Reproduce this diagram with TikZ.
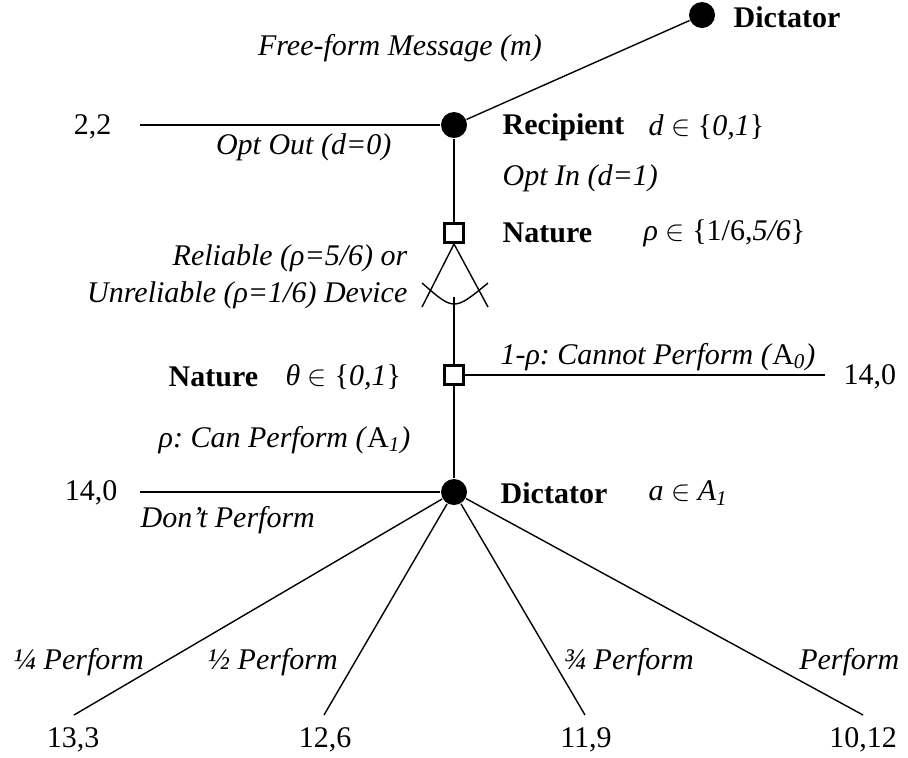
\documentclass[tikz,border=0pt]{standalone}
\usepackage{fontspec}
\setmainfont{Liberation Serif}
\usetikzlibrary{positioning}
\frenchspacing

\begin{document}
\begin{tikzpicture}[x=0.5pt, y=-0.5pt, line width=0.7pt,
    every node/.style={font=\fontsize{15}{18.5}\selectfont, inner sep=0pt},
    decision/.style={circle, fill, minimum size=13pt},
    chance/.style={draw, rectangle, line width=1.5pt, minimum size=9.5pt},
    player/.style={font=\fontsize{15}{18.5}\selectfont\bfseries, anchor=west},
    act/.style={font=\fontsize{15}{18.5}\selectfont\itshape}]
    \useasboundingbox (0,0) rectangle (908,757);

    % nodes of the tree
    \node[decision] (dtop) at (702,15) {};
    \node[decision] (rec) at (454,125) {};
    \node[chance] (nat1) at (454,233) {};
    \node[chance] (nat2) at (454,375) {};
    \node[decision] (dict) at (454,492) {};

    % end points
    \coordinate (optout) at (140,125);
    \coordinate (fanl) at (422,307);
    \coordinate (fanr) at (488,307);
    \coordinate (arcl) at (422,283);
    \coordinate (arcr) at (488,283);
    \coordinate (fanmid) at (454,297);
    \coordinate (cannot) at (825,375);
    \coordinate (dont) at (140,492);
    \coordinate (q1) at (74,715);
    \coordinate (q2) at (324,715);
    \coordinate (q3) at (585,715);
    \coordinate (q4) at (863,715);

    % branches
    \draw (dtop) -- (rec);
    \draw (rec) -- (optout);
    \draw (rec) -- (nat1);
    \draw (nat1.south) -- (fanl);
    \draw (nat1.south) -- (fanr);
    \draw (arcl) .. controls (454,311) .. (arcr);
    \draw (fanmid) -- (nat2);
    \draw (nat2) -- (cannot);
    \draw (nat2) -- (dict);
    \draw (dict) -- (dont);
    \foreach \q in {q1,q2,q3,q4}
        \draw (dict) -- (\q);

    % players
    \node[player] (dtoplbl) at (733,17) {Dictator};
    \node[player] (reclbl) at (502,127) {Recipient};
    \node[anchor=west] (recset) at (648,127) {\textit{d} $\in$ \{\textit{0,1}\}};
    \node[player] (nat1lbl) at (502,233) {Nature};
    \node[anchor=west] (nat1set) at (643,233) {\textit{ρ} $\in$ \{1/6,\textit{5/6}\}};
    \node[player] (nat2lbl) at (168,377) {Nature};
    \node[anchor=west] (nat2set) at (285,377) {\textit{θ} $\in$ \{\textit{0,1}\}};
    \node[player] (dictlbl) at (500,493) {Dictator};
    \node[anchor=west] (dictset) at (648,493) {\textit{a} $\in$ \textit{A\textsubscript{1}}};

    % actions
    \node[act] (msg) at (400,48) {Free-form Message (m)};
    \node[act, anchor=east] (outlbl) at (392,147) {Opt Out (d=0)};
    \node[act, anchor=west] (inlbl) at (502,178) {Opt In (d=1)};
    \node[act, anchor=east, align=right] (devlbl) at (408,277)
        {Reliable (ρ=5/6) or\\Unreliable (ρ=1/6) Device};
    \node[act] (cannotlbl) at (658,357) {1-ρ: Cannot Perform (\textup{A}\textsubscript{0})};
    \node[act, anchor=west] (canlbl) at (158,440) {ρ: Can Perform (\textup{A}\textsubscript{1})};
    \node[act, anchor=west] (dontlbl) at (140,520) {Don’t Perform};
    \node[act, anchor=west] (q1lbl) at (13,662) {¼ Perform};
    \node[act, anchor=west] (q2lbl) at (207,662) {½ Perform};
    \node[act, anchor=west] (q3lbl) at (563,662) {¾ Perform};
    \node[act, anchor=east] (q4lbl) at (900,662) {Perform};

    % payoffs
    \node[anchor=east] (pay0) at (112,127) {2,2};
    \node[anchor=west] (pay1) at (843,377) {14,0};
    \node[anchor=east] (pay2) at (118,493) {14,0};
    \node (pay3) at (73,740) {13,3};
    \node (pay4) at (325,740) {12,6};
    \node (pay5) at (586,740) {11,9};
    \node (pay6) at (863,740) {10,12};
\end{tikzpicture}
\end{document}
